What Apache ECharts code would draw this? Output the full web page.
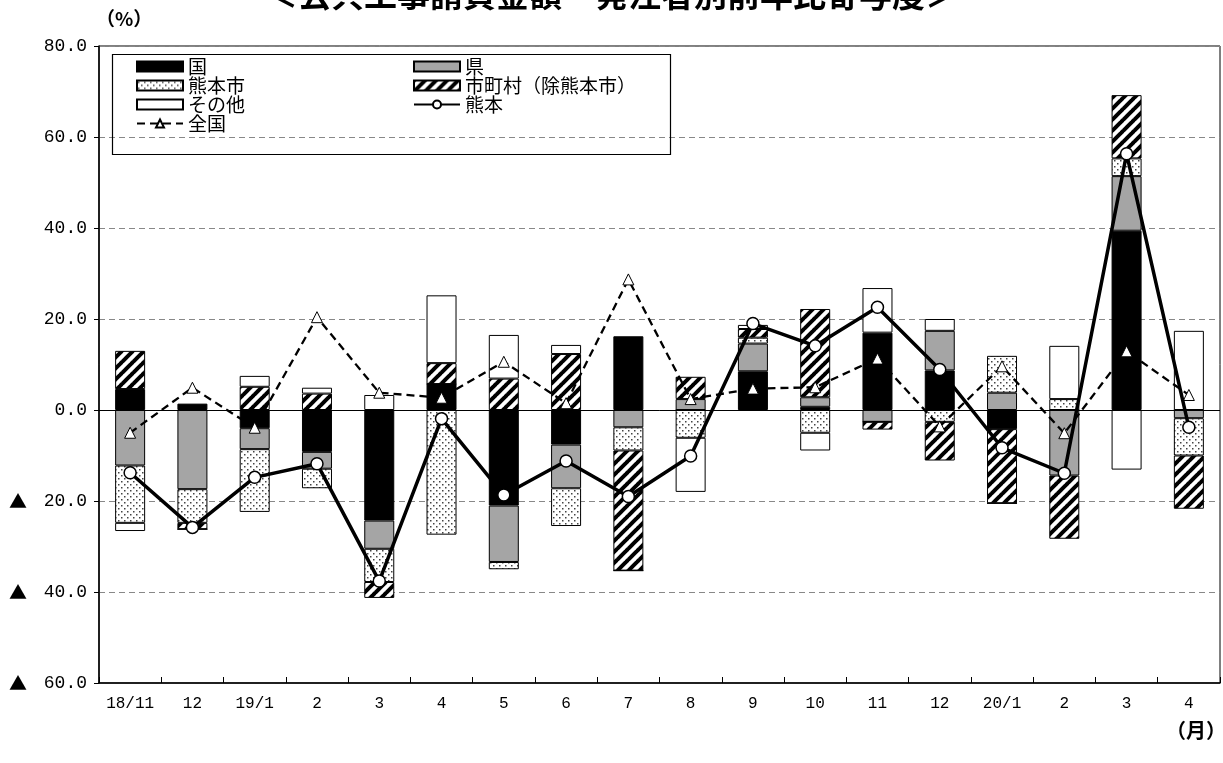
<!DOCTYPE html>
<html>
<head>
<meta charset="utf-8">
<script src="https://cdn.jsdelivr.net/npm/echarts@6/dist/echarts.min.js"></script>
<style>
  html, body { margin: 0; padding: 0; background: #fff; }
  #chart { width: 1223px; height: 763px; }
</style>
</head>
<body>
<div id="chart"></div>
<script>
// Months (axis labels)
const monthLabels = ['18/11', '12', '19/1', '2', '3', '4', '5', '6', '7', '8', '9', '10', '11', '12', '20/1', '2', '3', '4'];

// Contribution by ordering party (percentage points)
const kuni      = [4.6, 1.4, -4.0, -9.2, -24.3, 5.7, -21.0, -7.6, 16.2, 0, 8.5, 0.7, 17.0, 8.7, -4.2, 0, 39.4, 0];
const ken       = [-12.2, -17.4, -4.6, -3.7, -6.2, 0, -12.4, -9.6, -3.8, 2.4, 6.1, 2.1, -2.6, 8.7, 3.8, -14.4, 12.0, -1.8];
const kumamotoCity = [-12.6, -7.4, -13.8, -4.3, -7.3, -27.4, -1.6, -8.3, -5.1, -6.1, 1.3, -5.0, 0, -2.6, 8.1, 2.4, 3.9, -8.2];
const municipalities = [8.4, -1.4, 5.1, 3.6, -3.5, 4.6, 6.9, 12.3, -26.4, 4.9, 1.9, 19.4, -1.7, -8.5, -16.3, -13.9, 13.9, -11.7];
const others    = [-1.8, 0, 2.4, 1.3, 3.3, 14.9, 9.6, 2.0, 0, -11.9, 0.9, -3.9, 9.8, 2.6, 0, 11.7, -13.1, 17.4];

// Year-on-year change (%)
const kumamotoTotal = [-13.8, -25.8, -14.8, -11.8, -37.6, -1.9, -18.7, -11.2, -19.0, -10.1, 19.0, 14.1, 22.6, 8.9, -8.3, -13.9, 56.3, -3.8];
const nationwide    = [-5.0, 4.9, -3.9, 20.4, 3.8, 2.7, 10.6, 1.5, 28.7, 2.4, 4.7, 5.0, 11.3, -3.6, 9.6, -5.1, 12.9, 3.3];

// Fill patterns
function hatchPattern() {
  const s = 11;
  const c = document.createElement('canvas');
  c.width = s; c.height = s;
  const g = c.getContext('2d');
  g.fillStyle = '#fff';
  g.fillRect(0, 0, s, s);
  g.strokeStyle = '#000';
  g.lineWidth = 4;
  for (let k = -1; k <= 1; k++) {
    g.beginPath();
    g.moveTo(k * s - 1, s + 1);
    g.lineTo(k * s + s + 1, -1);
    g.stroke();
  }
  return { image: c, repeat: 'repeat' };
}
function dotPattern() {
  const s = 6;
  const c = document.createElement('canvas');
  c.width = s; c.height = s;
  const g = c.getContext('2d');
  g.fillStyle = '#fff';
  g.fillRect(0, 0, s, s);
  g.fillStyle = '#444';
  g.fillRect(1, 1, 1.5, 1.5);
  g.fillRect(4, 4, 1.5, 1.5);
  return { image: c, repeat: 'repeat' };
}

const numFont = "'Liberation Mono', 'DejaVu Sans Mono', monospace";
const jpFont = "'Noto Sans CJK JP', sans-serif";

function barSeries(name, data, color) {
  return {
    name: name,
    type: 'bar',
    stack: 'contrib',
    data: data,
    barWidth: 30,
    itemStyle: { color: color, borderColor: '#000', borderWidth: 1 },
    emphasis: { disabled: true },
    z: 2
  };
}

const series = [
  barSeries('国', kuni, '#000000'),
  barSeries('県', ken, '#a5a5a5'),
  barSeries('熊本市', kumamotoCity, dotPattern()),
  barSeries('市町村（除熊本市）', municipalities, hatchPattern()),
  barSeries('その他', others, '#ffffff'),
  {
    name: '熊本',
    type: 'line',
    data: kumamotoTotal,
    symbol: 'circle',
    symbolSize: 12,
    lineStyle: { color: '#000', width: 3.5 },
    itemStyle: { color: '#fff', borderColor: '#000', borderWidth: 1.5 },
    emphasis: { disabled: true },
    z: 5
  },
  {
    name: '全国',
    type: 'line',
    data: nationwide,
    symbol: 'triangle',
    symbolSize: 11,
    lineStyle: { color: '#000', width: 2.3, type: [8, 5] },
    itemStyle: { color: '#fff', borderColor: '#000', borderWidth: 1 },
    emphasis: { disabled: true },
    z: 4
  }
];

// Solid zero line
series[0].markLine = {
  silent: true,
  symbol: 'none',
  label: { show: false },
  lineStyle: { color: '#000', width: 1, type: 'solid' },
  data: [{ yAxis: 0 }],
  z: 3
};

const legendText = { fontFamily: jpFont, fontSize: 19, color: '#000', lineHeight: 19 };

const option = {
  animation: false,
  backgroundColor: '#fff',
  grid: {
    left: 99, right: 3, top: 46, bottom: 80,
    show: true, borderColor: '#000', borderWidth: 1, backgroundColor: 'transparent'
  },
  xAxis: {
    type: 'category',
    data: monthLabels.map((_, i) => String(i)),
    boundaryGap: true,
    axisLine: { onZero: false, lineStyle: { color: '#000', width: 1.5 } },
    axisTick: { show: true, inside: true, length: 6, interval: 0, lineStyle: { color: '#000' } },
    axisLabel: {
      interval: 0,
      formatter: (v, i) => monthLabels[i],
      fontFamily: numFont, fontSize: 16, color: '#000', margin: 13
    },
    splitLine: { show: false }
  },
  yAxis: {
    type: 'value',
    min: -60, max: 80, interval: 20,
    axisLine: { show: true, lineStyle: { color: '#000', width: 1.5 } },
    axisTick: { show: true, length: 5, lineStyle: { color: '#000' } },
    axisLabel: {
      formatter: v => (v < 0 ? '{t|▲}{s|  }' + Math.abs(v).toFixed(1) : v.toFixed(1)),
      fontFamily: numFont, fontSize: 18, color: '#000', margin: 12,
      rich: {
        t: { fontFamily: jpFont, fontSize: 18, color: '#000' },
        s: { fontFamily: numFont, fontSize: 14 }
      }
    },
    splitLine: { show: true, lineStyle: { color: '#888', width: 1, type: [6, 4] } }
  },
  legend: [
    {
      data: [{ name: '国', icon: 'rect' }, { name: '熊本市', icon: 'rect' }, { name: 'その他', icon: 'rect' }, '全国'],
      orient: 'vertical', left: 131, top: 52,
      itemWidth: 46, itemHeight: 10, itemGap: 0,
      textStyle: legendText, selectedMode: false
    },
    {
      data: [{ name: '県', icon: 'rect' }, { name: '市町村（除熊本市）', icon: 'rect' }, '熊本'],
      orient: 'vertical', left: 408, top: 52,
      itemWidth: 46, itemHeight: 10, itemGap: 0,
      textStyle: legendText, selectedMode: false
    }
  ],
  graphic: [
    {
      type: 'rect', left: 110, top: 52, z: 10, silent: true,
      shape: { width: 558, height: 100 },
      style: { fill: 'none', stroke: '#000', lineWidth: 1.2 }
    },
    {
      type: 'text', left: 'center', top: -22, silent: true,
      style: { text: '＜公共工事請負金額　発注者別前年比寄与度＞', font: "bold 33px 'Noto Sans CJK JP'", fill: '#000' }
    },
    {
      type: 'text', left: 96, top: 9, silent: true,
      style: { text: '（%）', font: "bold 19px 'Noto Sans CJK JP'", fill: '#000' }
    },
    {
      type: 'text', left: 1166, top: 720, silent: true,
      style: { text: '（月）', font: "bold 20px 'Noto Sans CJK JP'", fill: '#000' }
    }
  ],
  series: series
};

const chart = echarts.init(document.getElementById('chart'), null, { renderer: 'canvas' });
chart.setOption(option);
</script>
</body>
</html>
